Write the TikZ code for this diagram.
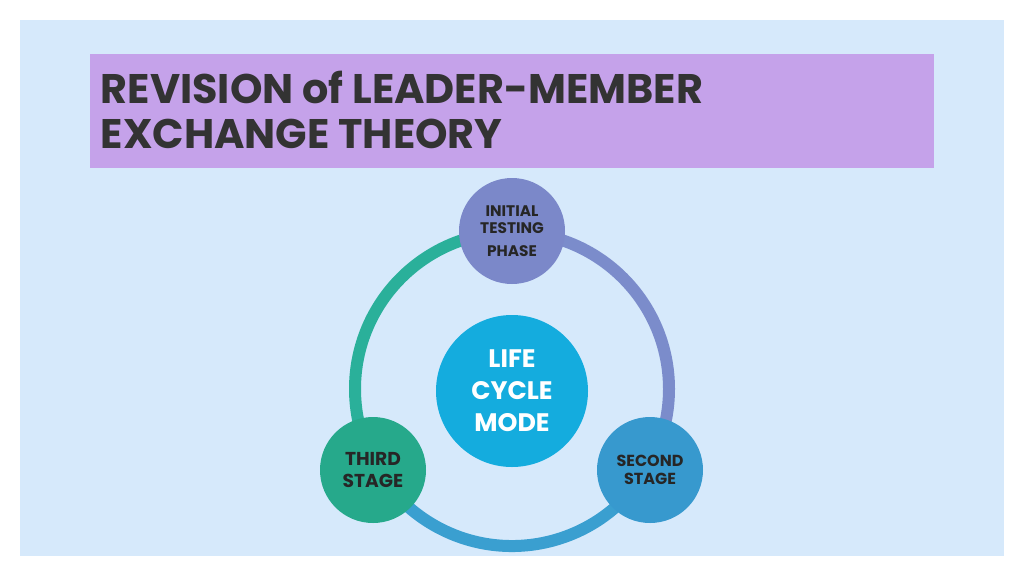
\documentclass[tikz,border=0pt]{standalone}
\usepackage{fontspec}
\setmainfont{Poppins}
\begin{document}
\begin{tikzpicture}[x=0.75pt,y=-0.75pt,
  ring/.style={line width=9pt},
  stage/.style={circle,minimum size=79.5pt,inner sep=0pt,align=center,font=\bfseries\fontsize{11}{12}\selectfont,text=black!85},
  hub/.style={circle,minimum size=114pt,inner sep=0pt,align=center,font=\bfseries\fontsize{19}{24}\selectfont,text=white}]
\definecolor{bgblue}{HTML}{D6E9FB}
\definecolor{titlebg}{HTML}{C5A2EA}
\definecolor{cteal}{HTML}{2AB09A}
\definecolor{cpurp}{HTML}{7B8CCB}
\definecolor{cblue}{HTML}{3A9FD0}
\definecolor{ctop}{HTML}{7B88C9}
\definecolor{cthird}{HTML}{26A98B}
\definecolor{csecond}{HTML}{3799CE}
\definecolor{chub}{HTML}{14ACDE}
\useasboundingbox (0,0) rectangle (1024,576);
\fill[white] (0,0) rectangle (1024,576);
\fill[bgblue] (20,20) rectangle (1004,556);
\fill[titlebg] (90,54) rectangle (934,168);
\node[anchor=west,align=left,font=\bfseries\fontsize{31}{34}\selectfont,text=black!80] (title) at (96,110) {REVISION of LEADER-MEMBER\\EXCHANGE THEORY};
\coordinate (c) at (512,389);
\draw[ring,cteal] (c) ++(270:157) arc[start angle=270,end angle=150,radius=157];
\draw[ring,cpurp] (c) ++(-90:157) arc[start angle=-90,end angle=30,radius=157];
\draw[ring,cblue] (c) ++(30:157) arc[start angle=30,end angle=150,radius=157];
\node[hub,fill=chub] (hub) at (512,391) {LIFE\\CYCLE\\MODE};
\node[stage,fill=ctop,font=\bfseries\fontsize{11.5}{13}\selectfont] (top) at (512,231) {INITIAL\\TESTING\\[4pt]PHASE};
\node[stage,fill=csecond,font=\bfseries\fontsize{12}{14}\selectfont] (second) at (650,470) {SECOND\\STAGE};
\node[stage,fill=cthird,font=\bfseries\fontsize{14}{17}\selectfont] (third) at (373,470) {THIRD\\STAGE};
\end{tikzpicture}
\end{document}
